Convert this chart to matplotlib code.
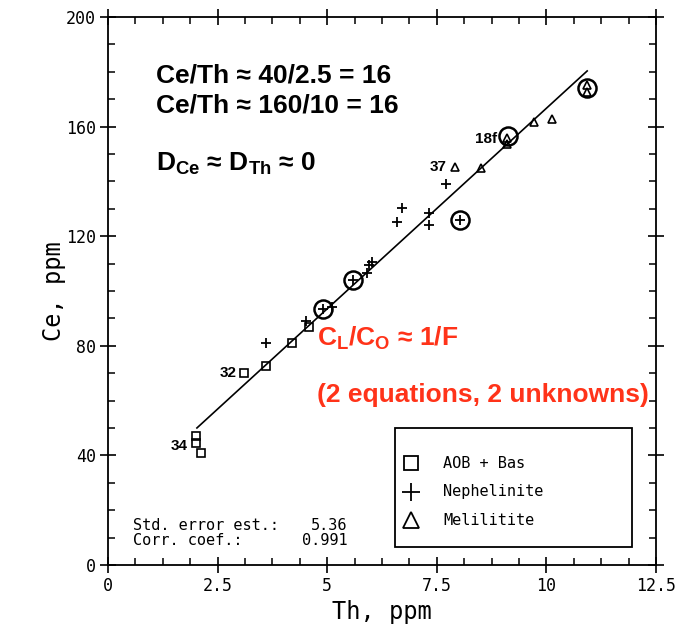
import matplotlib.pyplot as plt
from matplotlib.lines import Line2D
from matplotlib.patches import Rectangle
from matplotlib.ticker import MultipleLocator

plt.rcParams['font.family'] = ['DejaVu Sans Mono']

# AOB + basanite samples
aob_th = [2.01, 2.01, 2.12, 3.10, 3.60, 4.20, 4.58]
aob_ce = [47.1, 44.5, 40.9, 70.1, 72.6, 81.0, 86.9]

# nephelinites
neph_th = [3.60, 4.52, 4.90, 5.11, 5.59, 5.91, 5.95, 6.02, 6.59, 6.71, 7.32, 7.32, 7.71, 8.03]
neph_ce = [81.0, 89.1, 93.4, 94.2, 104.0, 106.6, 109.5, 110.6, 125.2, 130.3, 128.5, 124.1, 139.1, 125.9]

# melilitites
mel_th = [7.92, 8.51, 9.10, 9.10, 9.72, 10.13, 10.93, 10.93]
mel_ce = [145.3, 144.9, 155.8, 153.6, 161.7, 162.8, 175.2, 172.6]

# circled samples
circ_th = [4.90, 5.59, 8.03, 9.12, 10.93]
circ_ce = [93.4, 104.0, 125.9, 156.6, 174.0]

# regression line
fit_slope = 14.64
fit_icpt = 20.3
fit_th = [2.03, 10.93]
fit_ce = [fit_icpt + fit_slope * t for t in fit_th]

std_err = '5.36'
corr = '0.991'

leg_labels = ['AOB + Bas', 'Nephelinite', 'Melilitite']

fig = plt.figure(figsize=(6.83, 6.28), dpi=100)
ax = fig.add_axes([0.158, 0.1003, 0.8025, 0.8726])

ax.plot(fit_th, fit_ce, color='black', lw=1.2)
ax.plot(aob_th, aob_ce, 's', ms=5.5, mfc='none', mec='black', mew=1.2)
ax.plot(neph_th, neph_ce, '+', ms=7, mec='black', mew=1.3)
ax.plot(mel_th, mel_ce, '^', ms=5.5, mfc='none', mec='black', mew=1.2)
ax.plot(circ_th, circ_ce, 'o', ms=13, mfc='none', mec='black', mew=1.8)

# sample numbers
for lab, x, y in [('34', 1.82, 43.5), ('32', 2.93, 70.1), ('37', 7.72, 145.3), ('18f', 8.87, 155.5)]:
    ax.text(x, y, lab, ha='right', va='center', fontsize=11,
            family='Liberation Sans', fontweight='bold')

ax.set_xlim(0, 12.5)
ax.set_ylim(0, 200)
ax.xaxis.set_major_locator(MultipleLocator(2.5))
ax.xaxis.set_minor_locator(MultipleLocator(0.625))
ax.yaxis.set_major_locator(MultipleLocator(40))
ax.yaxis.set_minor_locator(MultipleLocator(10))
ax.set_xticks([0, 2.5, 5, 7.5, 10, 12.5])
ax.set_xticklabels(['0', '2.5', '5', '7.5', '10', '12.5'])
ax.tick_params(which='major', direction='inout', length=11, width=1.2,
               top=True, right=True, labelsize=12, pad=3)
ax.tick_params(which='minor', direction='in', length=5, width=1.1,
               top=True, right=True)
for s in ax.spines.values():
    s.set_linewidth(1.3)

ax.set_xlabel('Th, ppm', fontsize=17, labelpad=4)
ax.set_ylabel('Ce, ppm', fontsize=17, labelpad=0)

# regression stats
ax.text(0.57, 12.8, 'Std. error est.:', fontsize=11, va='baseline')
ax.text(0.57, 7.3, 'Corr. coef.:', fontsize=11, va='baseline')
ax.text(5.47, 12.8, std_err, fontsize=11, va='baseline', ha='right')
ax.text(5.47, 7.3, corr, fontsize=11, va='baseline', ha='right')

# legend box
ax.add_patch(Rectangle((0.5237, 0.0328), 0.4325, 0.2172, transform=ax.transAxes,
                       fill=False, ec='black', lw=1.3, zorder=3))
leg_marks = [dict(marker='s', ms=10), dict(marker='+', ms=13), dict(marker='^', ms=11)]
for i, (lab, mk) in enumerate(zip(leg_labels, leg_marks)):
    yy = 0.1861 - i * 0.052
    ax.add_line(Line2D([0.5529], [yy], ls='none', mfc='none', mec='black', mew=1.3,
                       transform=ax.transAxes, **mk))
    ax.text(0.6113, yy, lab, fontsize=11, va='center', transform=ax.transAxes)

# notes
note = dict(family='Liberation Sans', fontweight='bold', fontsize=19, va='baseline')
ax.text(1.09, 176.0, 'Ce/Th ≈ 40/2.5 = 16', color='black', **note)
ax.text(1.09, 165.2, 'Ce/Th ≈ 160/10 = 16', color='black', **note)
ax.text(1.09, 144.0, r'D$_\mathregular{Ce}$ ≈ D$_\mathregular{Th}$ ≈ 0', color='black', **note)
red = '#ff3319'
ax.text(4.77, 80.0, r'C$_\mathregular{L}$/C$_\mathregular{O}$ ≈ 1/F', color=red, **note)
ax.text(4.77, 59.5, '(2 equations, 2 unknowns)', color=red, **note)

fig.savefig('out.png', dpi=100)
